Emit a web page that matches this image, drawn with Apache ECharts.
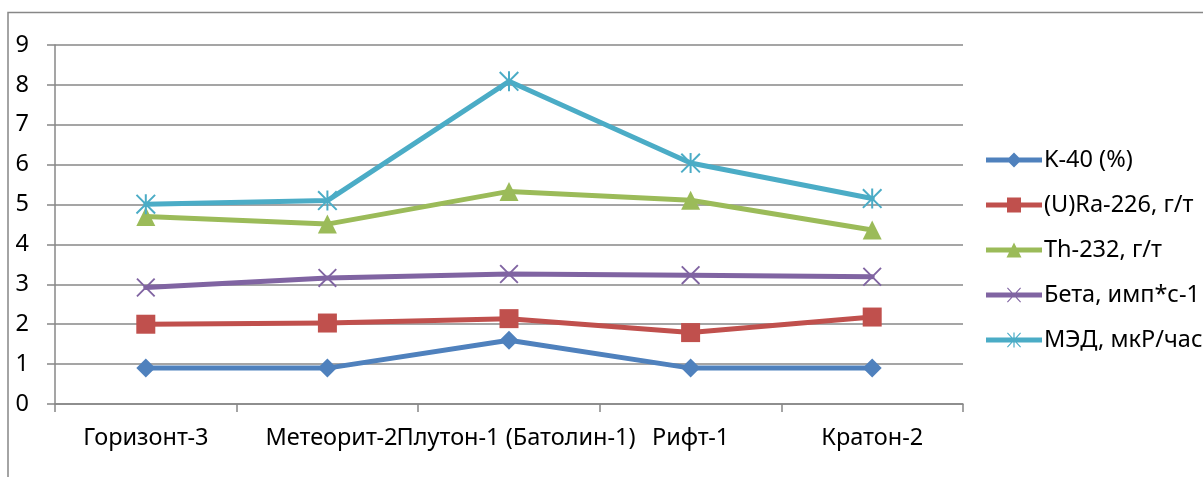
<!DOCTYPE html>
<html>
<head>
<meta charset="utf-8">
<script src="https://cdn.jsdelivr.net/npm/echarts@6/dist/echarts.min.js"></script>
<style>
  html, body { margin: 0; padding: 0; background: #fff; }
  #chart { width: 1203px; height: 477px; }
</style>
</head>
<body>
<div id="chart"></div>
<script>
// Sampling sites
const categories = ['Горизонт-3', 'Метеорит-2', 'Плутон-1 (Батолин-1)', 'Рифт-1', 'Кратон-2'];

// Measured values per site
const k40   = [0.9, 0.9, 1.6, 0.9, 0.9];
const ra226 = [2.0, 2.03, 2.14, 1.79, 2.18];
const th232 = [4.7, 4.51, 5.33, 5.11, 4.36];
const beta  = [2.92, 3.16, 3.26, 3.23, 3.19];
const med   = [5.01, 5.1, 8.09, 6.04, 5.15];

const seriesNames = ['K-40 (%)', '(U)Ra-226, г/т', 'Th-232, г/т', 'Бета, имп*с-1', 'МЭД, мкР/час'];

// y-axis range
const yMin = 0, yMax = 9, yStep = 1;

const FONT = 'Noto Sans';
const FS = 23.5;
const GRID_COLOR = '#878787';

// Marker shapes: a thin "x" and an asterisk made of thin bars
const CROSS = 'path://M0,0.7L0.7,0L10,9.3L9.3,10Z M9.3,0L10,0.7L0.7,10L0,9.3Z';
const STAR = CROSS + ' M4.5,0L5.5,0L5.5,10L4.5,10Z';

// Legend keys: a thick line segment with the series marker in its middle (56 x 15 box)
const BAR = 'M0,5 L56,5 L56,10 L0,10 Z';
const KEY_CROSS = ' M21,0.8 L21.8,0 L35,14.2 L34.2,15 Z M34.2,0 L35,0.8 L21.8,15 L21,14.2 Z';
const legendIcons = [
  'path://' + BAR + ' M28,0 L35.5,7.5 L28,15 L20.5,7.5 Z',
  'path://' + BAR + ' M21,0 L35,0 L35,15 L21,15 Z',
  'path://' + BAR + ' M28,0 L35.5,15 L20.5,15 Z',
  'path://' + BAR + KEY_CROSS,
  'path://' + BAR + KEY_CROSS + ' M27.4,0 L28.6,0 L28.6,15 L27.4,15 Z'
];

const styles = [
  { color: '#4F81BD', symbol: 'diamond',  size: 19 },
  { color: '#C0504D', symbol: 'rect',     size: 19 },
  { color: '#9BBB59', symbol: 'triangle', size: 19 },
  { color: '#8064A2', symbol: CROSS,      size: 19 },
  { color: '#4BACC6', symbol: STAR,       size: 20 }
];
const values = [k40, ra226, th232, beta, med];

const chart = echarts.init(document.getElementById('chart'), null, { renderer: 'canvas' });

chart.setOption({
  animation: false,
  backgroundColor: '#ffffff',
  textStyle: { fontFamily: FONT },
  graphic: [{
    type: 'rect',
    silent: true,
    shape: { x: 8, y: 12.5, width: 1400, height: 700 },
    style: { fill: 'none', stroke: GRID_COLOR, lineWidth: 1.5 }
  }],
  grid: { left: 55, right: 240, top: 45, bottom: 73, containLabel: false },
  xAxis: {
    type: 'category',
    data: categories,
    boundaryGap: true,
    axisLine: { lineStyle: { color: GRID_COLOR, width: 1.5 } },
    axisTick: { show: true, length: 8, lineStyle: { color: GRID_COLOR, width: 1.5 } },
    axisLabel: {
      interval: 0,
      hideOverlap: false,
      margin: 22,
      color: '#000',
      fontFamily: FONT,
      fontSize: FS,
      // the two long neighbouring labels are nudged right so they don't collide
      formatter: (v, i) => i === 1 ? '{m|' + v + '}' : (i === 2 ? '{p|' + v + '}' : v),
      rich: {
        m: { padding: [0, 0, 0, 8], fontSize: FS, fontFamily: FONT, color: '#000' },
        p: { padding: [0, 0, 0, 14], fontSize: FS, fontFamily: FONT, color: '#000' }
      }
    },
    splitLine: { show: false }
  },
  yAxis: {
    type: 'value',
    min: yMin,
    max: yMax,
    interval: yStep,
    axisLine: { show: true, lineStyle: { color: GRID_COLOR, width: 1.5 } },
    axisTick: { show: true, length: 8, lineStyle: { color: GRID_COLOR, width: 1.5 } },
    axisLabel: { margin: 26, color: '#000', fontFamily: FONT, fontSize: FS },
    splitLine: { show: true, lineStyle: { color: GRID_COLOR, width: 1.5 } }
  },
  legend: {
    orient: 'vertical',
    left: 981,
    top: 143,
    itemWidth: 56,
    itemHeight: 15,
    itemGap: 21,
    selectedMode: false,
    textStyle: { color: '#000', fontFamily: FONT, fontSize: FS, lineHeight: 24, padding: [0, 0, 0, -3] },
    data: seriesNames.map((n, i) => ({ name: n, icon: legendIcons[i] }))
  },
  series: values.map((data, i) => ({
    name: seriesNames[i],
    type: 'line',
    data: data,
    symbol: styles[i].symbol,
    symbolSize: styles[i].size,
    showAllSymbol: true,
    z: 2 + i,
    lineStyle: { color: styles[i].color, width: 5, cap: 'round', join: 'round' },
    itemStyle: { color: styles[i].color, borderWidth: 0 }
  }))
});
</script>
</body>
</html>
